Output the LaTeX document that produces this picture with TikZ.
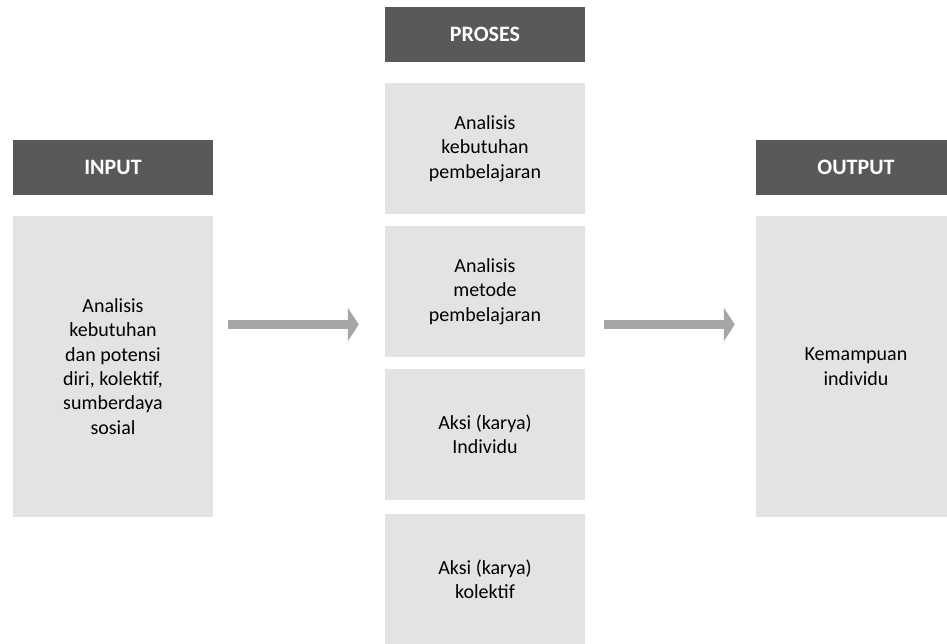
\documentclass[tikz,border=0pt]{standalone}
\usepackage{fontspec}
\setmainfont{Carlito}
\usepackage{xcolor}
\usepackage{tikz}
\usetikzlibrary{arrows.meta,positioning}
\definecolor{headgray}{HTML}{595959}
\definecolor{boxgray}{HTML}{E3E3E3}
\definecolor{arrowgray}{HTML}{A6A6A6}
\tikzset{
  headbox/.style={fill=headgray, text=white, minimum width=200pt, minimum height=55pt,
    inner sep=0pt, font=\fontsize{22}{26}\selectfont\bfseries},
  bodybox/.style={fill=boxgray, minimum width=200pt, inner sep=0pt, align=center,
    font=\fontsize{20}{24.4}\selectfont},
  flow/.style={draw=arrowgray, line width=9pt, -{Triangle[length=11pt,width=33pt]}}
}

\begin{document}
\begin{tikzpicture}[x=1pt,y=1pt]
    \useasboundingbox (0,0) rectangle (947,643);

    % Input column
    \node[headbox] (inhead) at (113,475.5) {INPUT};
    \node[bodybox, minimum height=301pt] (inbody) at (113,276.5)
        {Analisis\\kebutuhan\\dan potensi\\diri, kolektif,\\sumberdaya\\sosial};

    % Process column
    \node[headbox] (prohead) at (485,608.5) {PROSES};
    \node[bodybox, minimum height=131pt] (pro1) at (485,494.5) {Analisis\\kebutuhan\\pembelajaran};
    \node[bodybox, minimum height=131pt] (pro2) at (485,351.5) {Analisis\\metode\\pembelajaran};
    \node[bodybox, minimum height=131pt] (pro3) at (485,208.5) {Aksi (karya)\\Individu};
    \node[bodybox, minimum height=131pt] (pro4) at (485,63.5) {Aksi (karya)\\kolektif};

    % Output column
    \node[headbox] (outhead) at (856,475.5) {OUTPUT};
    \node[bodybox, minimum height=301pt] (outbody) at (856,276.5) {Kemampuan\\individu};

    % Arrows between columns
    \coordinate (flowline) at (0,318.5);
    \draw[flow, shorten <=15pt, shorten >=26pt] (inbody.east |- flowline) -- (pro2.west |- flowline);
    \draw[flow, shorten <=19pt, shorten >=21pt] (pro2.east |- flowline) -- (outbody.west |- flowline);
\end{tikzpicture}
\end{document}
